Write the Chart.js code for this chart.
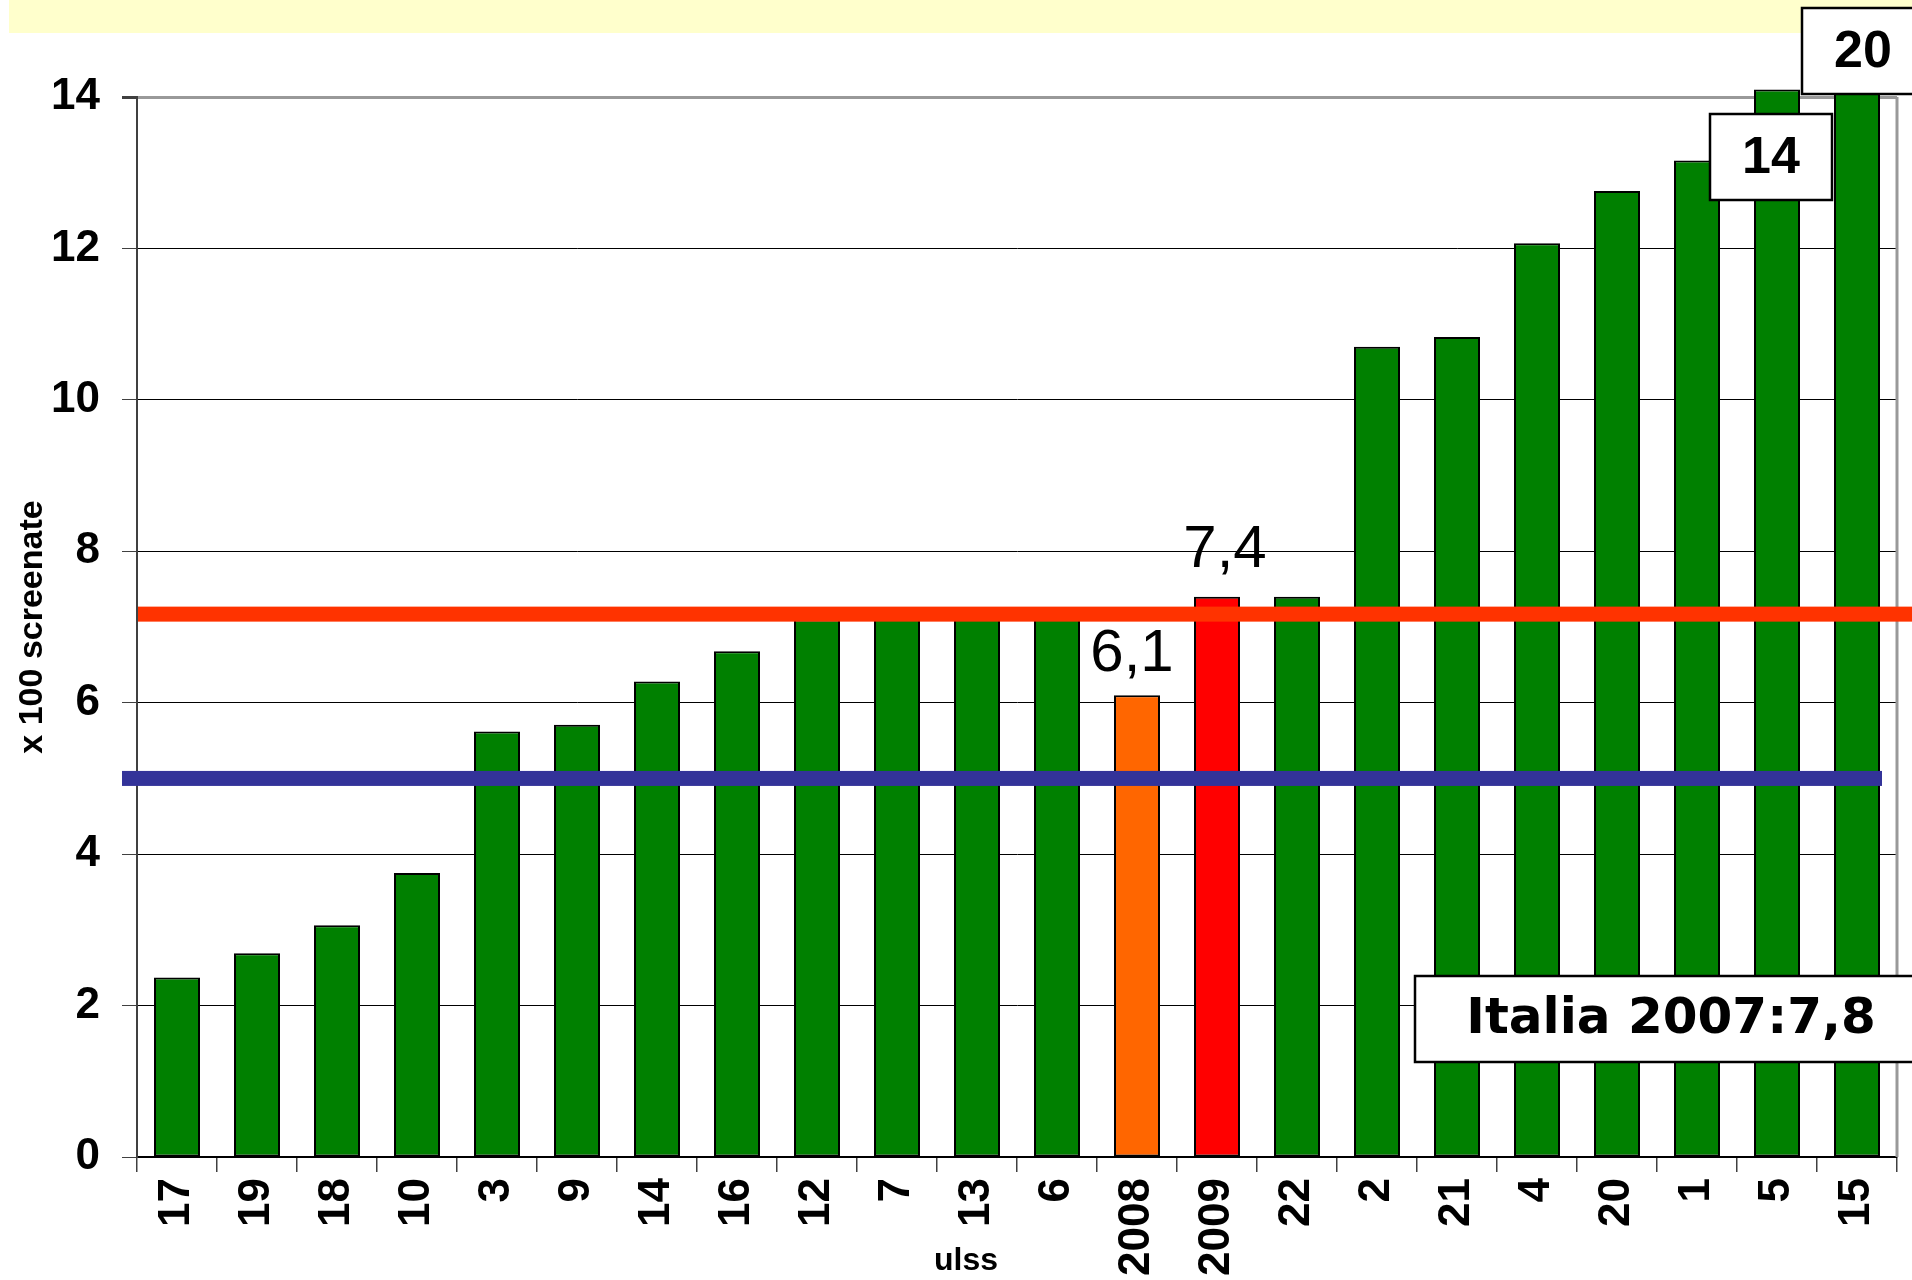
<!DOCTYPE html>
<html>
<head>
<meta charset="utf-8">
<script src="https://cdn.jsdelivr.net/npm/chart.js@4.4.1/dist/chart.umd.min.js"></script>
<style>
  html, body { margin: 0; padding: 0; background: #fff; }
  #wrap { width: 1912px; height: 1280px; }
</style>
</head>
<body>
<div id="wrap"><canvas id="chart" width="1912" height="1280"></canvas></div>
<script>
// data
const categories = ["17", "19", "18", "10", "3", "9", "14", "16", "12", "7", "13", "6",
  "2008", "2009", "22", "2", "21", "4", "20", "1", "5", "15"];
const values = [2.37, 2.69, 3.06, 3.75, 5.62, 5.71, 6.28, 6.68, 7.1, 7.15, 7.2, 7.2,
  6.1, 7.4, 7.4, 10.7, 10.83, 12.07, 12.76, 13.16, 14.1, 20];
const yTicks = [0, 2, 4, 6, 8, 10, 12, 14];
const redLineValue = 7.17;
const blueLineValue = 5.0;
const barLabels = { "2008": "6,1", "2009": "7,4" };
const boxLabels = { "5": "14", "15": "20" };
const italiaNote = "Italia 2007:7,8";
const yTitle = "x 100 screenate";
const xTitle = "ulss";

const GREEN = "#008000";
const ORANGE = "#FF6600";
const RED = "#FF0000";
const barColors = categories.map((c) => (c === "2008" ? ORANGE : c === "2009" ? RED : GREEN));

const SANS = '"Liberation Sans", Arial, sans-serif';

function drawBox(ctx, x, y, w, h, font) {
  ctx.fillStyle = "#fff";
  ctx.fillRect(x, y, w, h);
  ctx.strokeStyle = "#000";
  ctx.lineWidth = 2.5;
  ctx.strokeRect(x, y, w, h);
  ctx.fillStyle = "#000";
  ctx.font = font;
  ctx.textAlign = "center";
  ctx.textBaseline = "middle";
}

const decor = {
  id: "decor",
  beforeDraw(chart) {
    const ctx = chart.ctx;
    ctx.save();
    ctx.fillStyle = "#FFFFCC";
    ctx.fillRect(9, 0, chart.width - 9, 33);
    ctx.restore();
  },
  afterDatasetsDraw(chart) {
    const { ctx, chartArea: a, scales } = chart;
    const y = scales.y;
    const bars = chart.getDatasetMeta(0).data;
    ctx.save();

    // plot area right border
    ctx.strokeStyle = "#999";
    ctx.lineWidth = 3;
    ctx.beginPath();
    ctx.moveTo(a.right, a.top);
    ctx.lineTo(a.right, a.bottom);
    ctx.stroke();

    // reference lines
    const last = bars[bars.length - 1];
    const yb = y.getPixelForValue(blueLineValue);
    ctx.fillStyle = "#333399";
    ctx.fillRect(a.left - 15, yb - 7.5, last.x + last.width / 2 + 2 - (a.left - 15), 15);
    const yr = y.getPixelForValue(redLineValue);
    ctx.fillStyle = "#FF3300";
    ctx.fillRect(a.left + 1, yr - 7.5, chart.width - a.left, 15);

    // value labels over 2008 / 2009
    ctx.fillStyle = "#000";
    ctx.font = "60px " + SANS;
    ctx.textAlign = "center";
    ctx.textBaseline = "alphabetic";
    categories.forEach((c, i) => {
      if (!barLabels[c]) return;
      const b = bars[i];
      const dx = c === "2008" ? -5 : 8;
      const dy = c === "2008" ? 24 : 30;
      ctx.fillText(barLabels[c], b.x + dx, b.y - dy);
    });

    // boxed labels
    categories.forEach((c, i) => {
      if (!boxLabels[c]) return;
      const b = bars[i];
      const cx = c === "5" ? b.x - 6 : b.x + 6;
      const cy = c === "5" ? a.top + 60 : a.top - 46;
      drawBox(ctx, cx - 61, cy - 43, 122, 86, "bold 52px " + SANS);
      ctx.fillText(boxLabels[c], cx, cy + 2);
    });

    // Italia note
    const bx = a.right - 482, by = a.bottom - 181;
    drawBox(ctx, bx, by, 560, 86, 'bold 50px "Comic Sans MS", "DejaVu Sans", sans-serif');
    ctx.fillText(italiaNote, bx + 256, by + 44);

    // x axis title
    ctx.font = "bold 32px " + SANS;
    ctx.textAlign = "center";
    ctx.textBaseline = "middle";
    ctx.fillText(xTitle, (a.left + a.right) / 2 - 51, 1261);

    ctx.restore();
  },
};

new Chart(document.getElementById("chart"), {
  type: "bar",
  data: {
    labels: categories,
    datasets: [
      {
        data: values,
        backgroundColor: barColors,
        borderColor: "#000",
        borderWidth: 2,
        borderSkipped: false,
        barPercentage: 0.575,
        categoryPercentage: 1,
        clip: { left: 10, top: 8, right: 10, bottom: 10 },
      },
    ],
  },
  options: {
    responsive: false,
    animation: false,
    layout: { padding: { top: 97, right: 15, left: 0, bottom: 0 } },
    plugins: { legend: { display: false }, tooltip: { enabled: false } },
    scales: {
      x: {
        afterFit: (s) => {
          s.height = 123;
          s.paddingLeft = 0;
          s.paddingRight = 0;
        },
        grid: { drawOnChartArea: false, drawTicks: true, tickLength: 15, tickColor: "#404040", lineWidth: 1.5 },
        border: { color: "#000", width: 2 },
        ticks: {
          autoSkip: false,
          minRotation: 90,
          maxRotation: 90,
          padding: 6,
          color: "#000",
          font: { family: SANS, size: 44, weight: "bold" },
        },
      },
      y: {
        min: 0,
        max: 14,
        afterFit: (s) => { s.width = 137; },
        afterBuildTicks: (s) => { s.ticks = yTicks.map((v) => ({ value: v })); },
        grid: {
          color: (ctx) => (ctx.tick && ctx.tick.value === 14 ? "#999" : "#000"),
          lineWidth: (ctx) => (ctx.tick && ctx.tick.value === 14 ? 3 : 1),
          tickLength: 15,
          tickColor: "#404040",
        },
        border: { color: "#404040", width: 2 },
        ticks: {
          padding: 22,
          color: "#000",
          font: { family: SANS, size: 44, weight: "bold" },
        },
        title: {
          display: true,
          text: yTitle,
          color: "#000",
          padding: { top: 12, bottom: 0 },
          font: { family: SANS, size: 34, weight: "bold" },
        },
      },
    },
  },
  plugins: [decor],
});
</script>
</body>
</html>
